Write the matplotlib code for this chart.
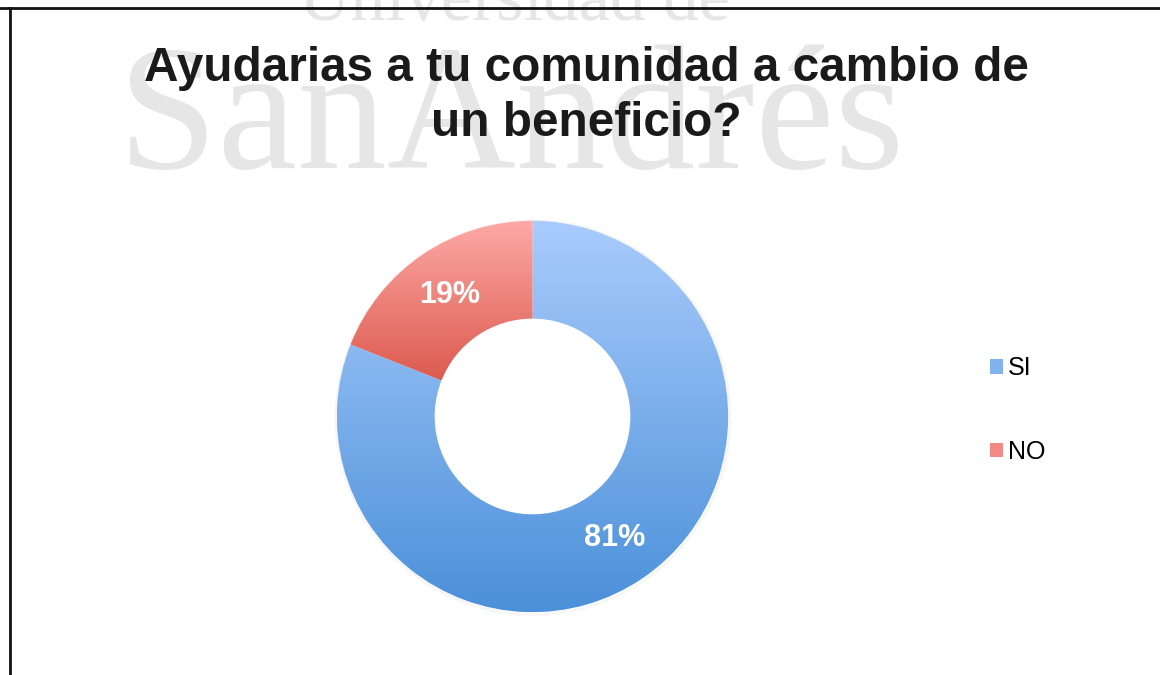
import matplotlib
matplotlib.use("Agg")
import matplotlib.pyplot as plt
import numpy as np
from matplotlib.colors import to_rgb
from matplotlib.lines import Line2D
from matplotlib.patches import Patch, Circle

titulo = "Ayudarias a tu comunidad a cambio de\nun beneficio?"
categorias = ["SI", "NO"]
valores = [81, 19]
# color arriba / color abajo de cada porcion
col_arriba = ["#a9ccfc", "#fdaaa6"]
col_abajo = ["#4b90d9", "#dc5a4f"]
col_leyenda = ["#80b2ee", "#f08a83"]


def degradado(c1, c2, n=256):
    a = np.array(to_rgb(c1))
    b = np.array(to_rgb(c2))
    t = np.linspace(0, 1, n)[:, None]
    g = a * (1 - t) + b * t
    return g[:, None, :]


fig = plt.figure(figsize=(11.6, 6.75), dpi=100)
fig.patch.set_facecolor("white")

# marca de agua
fig.text(299 / 1160, 1 - 20 / 675, "Universidad de", family="Liberation Serif",
         fontsize=51, color="#e6e6e6", ha="left", va="baseline", zorder=-2)
fig.text(118 / 1160, 1 - 168 / 675, "SanAndrés", family="Liberation Serif",
         fontsize=129, color="#e6e6e6", ha="left", va="baseline", zorder=-2)

# bordes
fig.add_artist(Line2D([0, 1], [1 - 8 / 675] * 2, color="#111111", lw=2,
                      transform=fig.transFigure))
fig.add_artist(Line2D([10 / 1160] * 2, [0, 1 - 8 / 675], color="#111111", lw=2,
                      transform=fig.transFigure))

fig.text(586.5 / 1160, 1 - 96 / 675, titulo, ha="center", va="center",
         fontsize=34.4, fontweight="bold", family="Liberation Sans",
         color="#1a1a1a", linespacing=1.3, zorder=5)

ax = fig.add_axes([0.2735, 0.0641, 0.3711, 0.6378])
wedges, textos, pcts = ax.pie(valores, startangle=90, counterclock=False,
                              radius=1, wedgeprops=dict(width=0.5, linewidth=0),
                              autopct=lambda p: "%d%%" % round(p), pctdistance=0.75,
                              textprops=dict(color="white", fontsize=22,
                                             fontweight="bold", family="Liberation Sans"))

# sombra suave
for k in range(4):
    ax.add_patch(Circle((0.003, -0.006), 1.0 + 0.004 * k, facecolor="none",
                        edgecolor="#000000", lw=1.0, alpha=0.02, zorder=0))

for i, w in enumerate(wedges):
    ext = w.get_path().get_extents()
    img = ax.imshow(degradado(col_arriba[i], col_abajo[i]),
                    extent=(ext.x0, ext.x1, ext.y0, ext.y1),
                    origin="upper", aspect="auto", zorder=1, interpolation="bilinear")
    img.set_clip_path(w)
    w.set_facecolor("none")

for t in pcts:
    t.set_zorder(3)

ax.set_xlim(-1.1, 1.1)
ax.set_ylim(-1.1, 1.1)
ax.axis("off")

handles = [Patch(facecolor=c, edgecolor="none") for c in col_leyenda]
fig.legend(handles, categorias, loc="center left", bbox_to_anchor=(990 / 1160, 1 - 410 / 675),
           frameon=False, prop=dict(family="Liberation Sans", size=18),
           handlelength=0.5, handleheight=0.5, handletextpad=0.2, labelspacing=2.38,
           borderpad=0, borderaxespad=0)

fig.savefig("out.png", dpi=100, facecolor="white")
